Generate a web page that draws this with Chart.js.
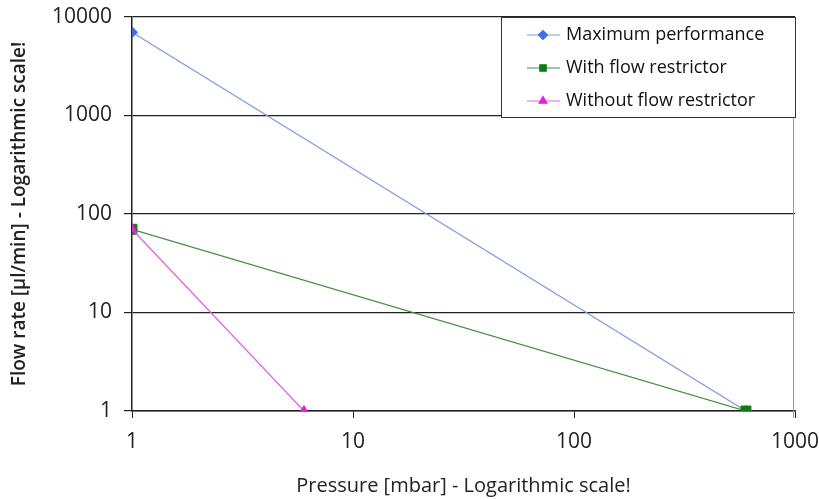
<!DOCTYPE html>
<html>
<head>
<meta charset="utf-8">
<script src="https://cdn.jsdelivr.net/npm/chart.js@4.4.1/dist/chart.umd.min.js"></script>
<style>
  html, body { margin: 0; padding: 0; background: #fff; }
  #wrap { width: 819px; height: 500px; position: relative; }
</style>
</head>
<body>
<div id="wrap"><canvas id="chart" width="819" height="500"></canvas></div>
<script>
// values (log-log axes)
const seriesNames = ["Maximum performance", "With flow restrictor", "Without flow restrictor"];
const maxPerfPressure = [1, 600];
const maxPerfFlow = [7000, 1];
const withRestrictorPressure = [1, 600];
const withRestrictorFlow = [70, 1];
const withoutRestrictorPressure = [1, 6];
const withoutRestrictorFlow = [70, 1];

const xTickValues = [1, 10, 100, 1000];
const yTickValues = [1, 10, 100, 1000, 10000];

const FONT = "'Open Sans', 'DejaVu Sans', sans-serif";

function toPoints(xs, ys) {
  return xs.map((x, i) => ({ x: x, y: ys[i] }));
}

// order: higher value is drawn first, so the later series sit on top
const datasets = [
  {
    label: seriesNames[0],
    data: toPoints(maxPerfPressure, maxPerfFlow),
    borderColor: "#7f9ee0",
    backgroundColor: "#3d6fe3",
    pointBorderColor: "#3d6fe3",
    pointStyle: "rectRot",
    pointRadius: 5.5,
    order: 3
  },
  {
    label: seriesNames[1],
    data: toPoints(withRestrictorPressure, withRestrictorFlow),
    borderColor: "#3f8f3f",
    backgroundColor: "#0b7d12",
    pointBorderColor: "#0b7d12",
    pointStyle: "rect",
    pointRadius: 7,
    order: 2
  },
  {
    label: seriesNames[2],
    data: toPoints(withoutRestrictorPressure, withoutRestrictorFlow),
    borderColor: "#e066e0",
    backgroundColor: "#e020e0",
    pointBorderColor: "#e020e0",
    pointStyle: "triangle",
    pointRadius: 5.5,
    order: 1
  }
];

// legend box drawn inside the plot, top right
const boxLegend = {
  id: "boxLegend",
  afterDraw(chart) {
    const ctx = chart.ctx;
    const area = chart.chartArea;
    const left = 501, top = area.top, w = area.right - left + 1, h = 100;
    ctx.save();
    ctx.fillStyle = "#fff";
    ctx.fillRect(left, top, w, h);
    ctx.strokeStyle = "#333";
    ctx.lineWidth = 1;
    ctx.strokeRect(left + 0.5, top + 0.5, w - 1, h);
    ctx.font = "18px " + FONT;
    ctx.textBaseline = "middle";
    chart.data.datasets.forEach((ds, i) => {
      const y = top + 18 + i * 33;
      ctx.strokeStyle = ds.borderColor;
      ctx.lineWidth = 1.2;
      ctx.beginPath();
      ctx.moveTo(527, y);
      ctx.lineTo(560, y);
      ctx.stroke();
      ctx.fillStyle = ds.backgroundColor;
      ctx.strokeStyle = ds.pointBorderColor;
      Chart.helpers.drawPoint(ctx, { pointStyle: ds.pointStyle, radius: 4.5, rotation: 0, borderWidth: 1 }, 543, y);
      ctx.fillStyle = "#111";
      ctx.fillText(ds.label, 566, y);
    });
    ctx.restore();
  }
};

// thin grey frame on the right of the plot
const rightEdge = {
  id: "rightEdge",
  beforeDatasetsDraw(chart) {
    const ctx = chart.ctx;
    const area = chart.chartArea;
    ctx.save();
    ctx.strokeStyle = "#9a9a9a";
    ctx.lineWidth = 1;
    ctx.beginPath();
    ctx.moveTo(area.right - 1.5, area.top);
    ctx.lineTo(area.right - 1.5, area.bottom + 7);
    ctx.stroke();
    ctx.restore();
  }
};

new Chart(document.getElementById("chart"), {
  type: "scatter",
  data: { datasets: datasets },
  options: {
    responsive: false,
    animation: false,
    showLine: true,
    elements: {
      line: { borderWidth: 1.3, tension: 0 },
      point: { borderWidth: 1 }
    },
    layout: { padding: { left: 8, right: 24, top: 17, bottom: 0 } },
    plugins: {
      legend: { display: false },
      tooltip: { enabled: false }
    },
    scales: {
      x: {
        type: "logarithmic",
        min: 1,
        max: 1000,
        afterBuildTicks: scale => { scale.ticks = xTickValues.map(v => ({ value: v })); },
        afterFit: scale => { scale.height = 89; scale.paddingLeft = 0; scale.paddingRight = 0; },
        border: { color: "#222", width: 1.5 },
        grid: { drawOnChartArea: false, color: "#222", tickLength: 7 },
        ticks: {
          color: "#222",
          padding: 11,
          font: { family: FONT, size: 21 },
          maxRotation: 0,
          callback: value => String(value)
        },
        title: {
          display: true,
          text: "Pressure [mbar] - Logarithmic scale!",
          color: "#222",
          font: { family: FONT, size: 20 },
          padding: { top: 4, bottom: 2 }
        }
      },
      y: {
        type: "logarithmic",
        min: 1,
        max: 10000,
        afterBuildTicks: scale => { scale.ticks = yTickValues.map(v => ({ value: v })); },
        afterFit: scale => { scale.width = 124; scale.paddingTop = 0; scale.paddingBottom = 0; },
        border: { color: "#222", width: 1.5 },
        grid: { color: "#222", lineWidth: 1.2, tickLength: 8 },
        ticks: {
          color: "#222",
          padding: 12,
          font: { family: FONT, size: 21 },
          callback: value => String(value)
        },
        title: {
          display: true,
          text: "Flow rate [µl/min] - Logarithmic scale!",
          color: "#222",
          font: { family: FONT, size: 19, weight: "600" },
          padding: { top: 0, bottom: 2 }
        }
      }
    }
  },
  plugins: [rightEdge, boxLegend]
});
</script>
</body>
</html>
